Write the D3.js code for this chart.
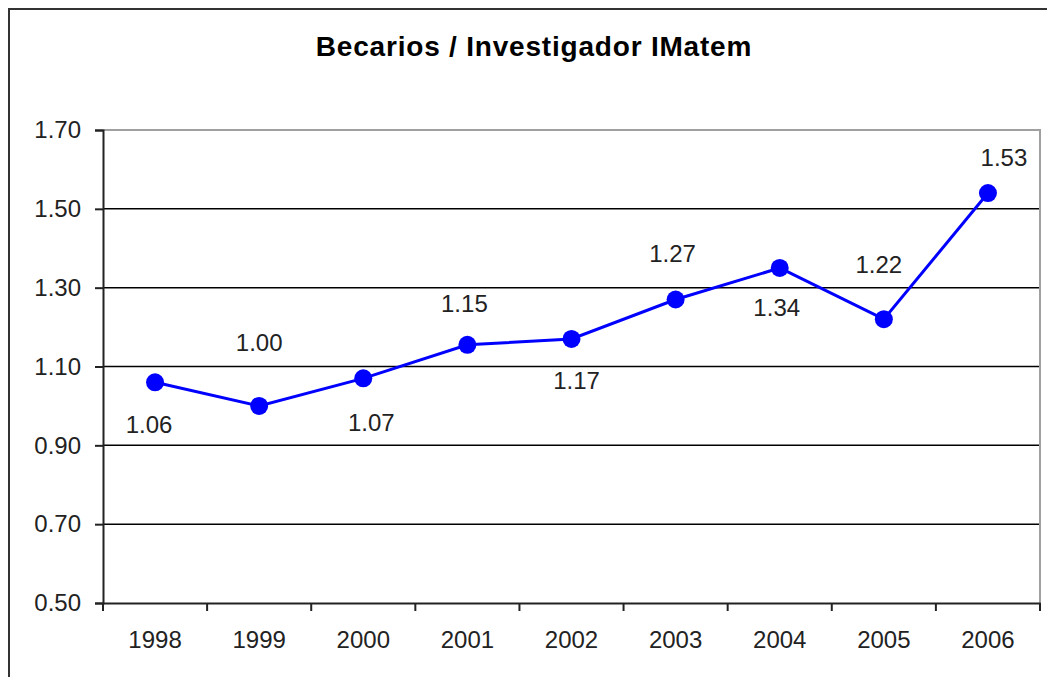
<!DOCTYPE html>
<html>
<head>
<meta charset="utf-8">
<script src="https://cdn.jsdelivr.net/npm/d3@7"></script>
<style>
  body { margin: 0; background: #fff; }
  svg { display: block; font-family: 'Liberation Sans', Arial, sans-serif; }
</style>
</head>
<body>
<div id="chart"></div>
<script>
// Data
const years = ['1998', '1999', '2000', '2001', '2002', '2003', '2004', '2005', '2006']
const values = [1.06, 1.00, 1.07, 1.155, 1.17, 1.27, 1.35, 1.22, 1.54]
const labels = ['1.06', '1.00', '1.07', '1.15', '1.17', '1.27', '1.34', '1.22', '1.53']
const yTicks = [0.5, 0.7, 0.9, 1.1, 1.3, 1.5, 1.7]
const title = 'Becarios / Investigador IMatem'

// Manual label placement (Excel-style, labels nudged by hand)
const labelDx = [-6, 0, 8, -3, 5, -3, -3, -5, 16]
const labelDy = [42, -63, 44, -41, 42, -46, 40, -55, -35]

const W = 1047
const H = 677
const plot = { left: 103, right: 1040, top: 130, bottom: 603 }

const svg = d3.select('#chart').append('svg')
  .attr('width', W)
  .attr('height', H)

svg.append('rect')
  .attr('width', W).attr('height', H)
  .attr('fill', '#fff')

// outer chart border (runs off the right/bottom edge)
svg.append('rect')
  .attr('x', 9).attr('y', 9)
  .attr('width', W + 40).attr('height', H + 40)
  .attr('fill', 'none')
  .attr('stroke', '#333')
  .attr('stroke-width', 2)

svg.append('text')
  .attr('x', 534)
  .attr('y', 56)
  .attr('text-anchor', 'middle')
  .style('font-size', '28px')
  .style('font-weight', 'bold')
  .style('letter-spacing', '0.8px')
  .style('fill', '#000')
  .text(title)

const x = d3.scaleBand()
  .domain(years)
  .range([plot.left, plot.right])

const y = d3.scaleLinear()
  .domain([0.5, 1.7])
  .range([plot.bottom, plot.top])

// gridlines
svg.append('g')
  .selectAll('line')
  .data(yTicks.filter(d => d > 0.5 && d < 1.7))
  .enter().append('line')
  .attr('x1', plot.left).attr('x2', plot.right)
  .attr('y1', d => y(d)).attr('y2', d => y(d))
  .attr('stroke', '#000')
  .attr('stroke-width', 1.5)

// plot border top/right (gray)
svg.append('path')
  .attr('d', `M${plot.left},${plot.top}H${plot.right}V${plot.bottom}`)
  .attr('fill', 'none')
  .attr('stroke', '#a0a0a0')
  .attr('stroke-width', 2)

// y axis
const yAxis = svg.append('g')
  .attr('transform', `translate(${plot.left},0)`)
  .call(d3.axisLeft(y)
    .tickValues(yTicks)
    .tickFormat(d3.format('.2f'))
    .tickSize(8)
    .tickPadding(14))
yAxis.select('.domain').attr('stroke', '#222').attr('stroke-width', 2)
yAxis.selectAll('.tick line').attr('stroke', '#222').attr('stroke-width', 2)
yAxis.selectAll('text')
  .style('font-size', '24px')
  .style('fill', '#222')
  .attr('font-family', null)

// x axis: labels at band centers, ticks at band boundaries
const xAxis = svg.append('g')
  .attr('transform', `translate(0,${plot.bottom})`)
  .call(d3.axisBottom(x).tickSize(0).tickPadding(28))
xAxis.select('.domain').attr('stroke', '#222').attr('stroke-width', 2)
xAxis.selectAll('text')
  .style('font-size', '24px')
  .style('fill', '#222')
  .attr('font-family', null)

xAxis.selectAll('.bound')
  .data(years.map(d => x(d)).concat([plot.right]))
  .enter().append('line')
  .attr('class', 'bound')
  .attr('x1', d => d).attr('x2', d => d)
  .attr('y1', 0).attr('y2', 8)
  .attr('stroke', '#222')
  .attr('stroke-width', 2)

// series
const cx = (d, i) => x(years[i]) + x.bandwidth() / 2

svg.append('path')
  .datum(values)
  .attr('fill', 'none')
  .attr('stroke', '#0000ff')
  .attr('stroke-width', 3)
  .attr('d', d3.line().x(cx).y(d => y(d)))

svg.append('g')
  .selectAll('circle')
  .data(values)
  .enter().append('circle')
  .attr('cx', cx)
  .attr('cy', d => y(d))
  .attr('r', 9)
  .attr('fill', '#0000ff')

svg.append('g')
  .selectAll('text')
  .data(labels)
  .enter().append('text')
  .attr('x', (d, i) => cx(null, i) + labelDx[i])
  .attr('y', (d, i) => y(values[i]) + labelDy[i])
  .attr('dy', '0.35em')
  .attr('text-anchor', 'middle')
  .style('font-size', '24px')
  .style('fill', '#222')
  .text(d => d)
</script>
</body>
</html>
